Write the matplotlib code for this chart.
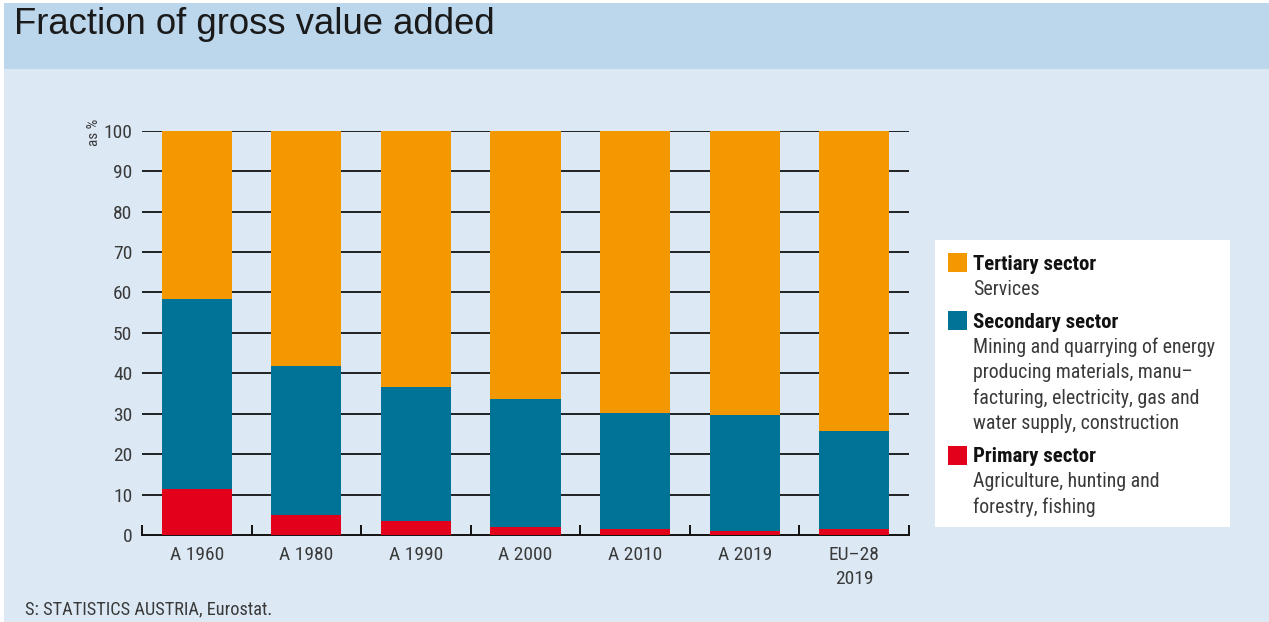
import matplotlib
matplotlib.use("Agg")
import matplotlib.pyplot as plt
from matplotlib.patches import Rectangle
import numpy as np

# data (percent of gross value added)
categories = ["A 1960", "A 1980", "A 1990", "A 2000", "A 2010", "A 2019", "EU\u201328\n2019"]
primary = [11.3, 4.9, 3.5, 2.0, 1.6, 1.1, 1.6]
secondary = [47.0, 37.0, 33.0, 31.6, 28.5, 28.5, 24.2]
tertiary = [41.7, 58.1, 63.5, 66.4, 69.9, 70.4, 74.2]
yticks = [0, 10, 20, 30, 40, 50, 60, 70, 80, 90, 100]

legend_names = ["Tertiary sector", "Secondary sector", "Primary sector"]
legend_notes = [
    ["Services"],
    ["Mining and quarrying of energy", "producing materials, manu\u2013",
     "facturing, electricity, gas and", "water supply, construction"],
    ["Agriculture, hunting and", "forestry, fishing"],
]

c_prim = "#e2001a"
c_sec = "#007396"
c_ter = "#f39800"
legend_colors = [c_ter, c_sec, c_prim]

W, H = 1269, 622
plt.rcParams["font.family"] = ["Roboto Condensed", "Liberation Sans", "DejaVu Sans"]


def fx(px):
    return px / W


def fy(py):
    return 1 - py / H


fig = plt.figure(figsize=(W / 100, H / 100), dpi=100)
fig.patch.set_facecolor("white")

# background panels
fig.patches.append(Rectangle((fx(4), 0), 1, fy(69), transform=fig.transFigure,
                             facecolor="#dce9f5", edgecolor="none", zorder=-10))
fig.patches.append(Rectangle((fx(4), fy(69)), 1, fy(3) - fy(69), transform=fig.transFigure,
                             facecolor="#bcd6ec", edgecolor="none", zorder=-10))
fig.text(fx(14), fy(25), "Fraction of gross value added", fontsize=26.3,
         family=["Liberation Sans", "DejaVu Sans"], color="#1a1a1a", va="center", ha="left")

ax = fig.add_axes([fx(142), fy(535), fx(909) - fx(142), fy(130.7) - fy(535)])
ax.set_facecolor("none")
x = np.arange(len(categories))
bw = 0.64
bot2 = np.array(primary)
bot3 = bot2 + np.array(secondary)
ax.bar(x, primary, bw, color=c_prim, zorder=3)
ax.bar(x, secondary, bw, bottom=bot2, color=c_sec, zorder=3)
ax.bar(x, tertiary, bw, bottom=bot3, color=c_ter, zorder=3)

ax.set_xlim(-0.5, len(categories) - 0.5)
ax.set_ylim(0, 100)
for v in yticks[1:]:
    ax.axhline(v, color="#111111", lw=1.3, zorder=1)

for s in ["top", "right", "left"]:
    ax.spines[s].set_visible(False)
ax.spines["bottom"].set_linewidth(1.4)
ax.spines["bottom"].set_color("#111111")

ax.set_yticks(yticks)
ax.tick_params(axis="y", length=0, pad=7, labelsize=14, labelcolor="#3a3a3a")
ax.set_xticks(x)
ax.set_xticklabels(categories)
ax.tick_params(axis="x", which="major", length=0, pad=8, labelsize=14, labelcolor="#3a3a3a")
ax.set_xticks(np.arange(-0.5, len(categories)), minor=True)
ax.tick_params(axis="x", which="minor", direction="in", length=7, width=1.4, color="#111111")
for lbl in ax.get_xticklabels():
    lbl.set_linespacing(1.45)

fig.text(fx(94), fy(132), "as %", rotation=90, fontsize=11, color="#3a3a3a",
         ha="center", va="center")

# legend box
fig.patches.append(Rectangle((fx(935), fy(527)), fx(1230) - fx(935), fy(240) - fy(527),
                             transform=fig.transFigure, facecolor="white", edgecolor="none"))
yy = 264
for name, notes, col in zip(legend_names, legend_notes, legend_colors):
    fig.patches.append(Rectangle((fx(948), fy(yy + 8)), fx(19), fy(0) - fy(19),
                                 transform=fig.transFigure, facecolor=col, edgecolor="none"))
    fig.text(fx(973), fy(yy), name, fontsize=15, fontweight="bold", color="#111111",
             va="center", ha="left")
    for note in notes:
        yy += 25.3
        fig.text(fx(973), fy(yy), note, fontsize=14.3, color="#3a3a3a", va="center", ha="left")
    yy += 33

fig.text(fx(25), fy(609), "S: STATISTICS AUSTRIA, Eurostat.", fontsize=13.2,
         color="#3a3a3a", va="center", ha="left")

fig.savefig("out.png", dpi=100)
